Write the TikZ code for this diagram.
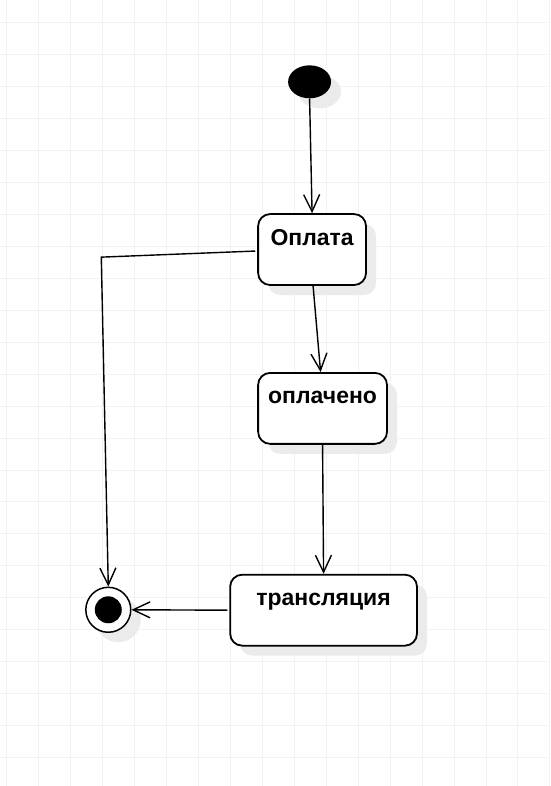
\documentclass[tikz,border=0pt]{standalone}
\usepackage{fontspec}
\setmainfont{Liberation Sans}
\usepackage{tikz}
\usetikzlibrary{shapes,arrows.meta,calc,shadows}

\begin{document}
\begin{tikzpicture}[x=1pt, y=-1pt,
    gridline/.style={draw=black!5, line width=0.8pt},
    shade box/.style={drop shadow={shadow xshift=10pt, shadow yshift=-10pt, fill=black!8, opacity=1}},
    state/.style={draw, line width=1.8pt, fill=white, rounded corners=12pt, shade box,
        inner sep=0pt, text height=31pt, text depth=40pt, font=\fontsize{23}{27}\selectfont\bfseries},
    initial/.style={ellipse, fill=black, minimum width=43pt, minimum height=33pt, inner sep=0pt, shade box},
    final/.style={circle, draw, line width=1.5pt, fill=white, minimum size=45pt, inner sep=0pt, shade box,
        path picture={\fill[black] (path picture bounding box.center) circle (13.5pt);}},
    trans/.style={draw, line width=1.4pt, -{Straight Barb[length=17pt, width=16pt, line width=1.4pt]}}]

    % background grid
    \fill[white] (0,0) rectangle (548,786);
    \foreach \gx in {6,38,...,550} \draw[gridline] (\gx,0) -- (\gx,786);
    \foreach \gy in {22,54,...,786} \draw[gridline] (0,\gy) -- (548,\gy);
    \useasboundingbox (0,0) rectangle (548,786);

    % states
    \node [initial] (start) at (309.5,81.5) {};
    \node [state, minimum width=108pt] (oplata) at (312,213) [anchor=north] {Оплата};
    \node [state, minimum width=129pt] (oplacheno) at (322.5,372) [anchor=north] {оплачено};
    \node [state, minimum width=187pt] (translyatsiya) at (323.5,574) [anchor=north] {трансляция};
    \node [final] (finish) at (108,610) {};
    \coordinate (bend) at (101,257);

    % transitions
    \draw [trans] (start.south) -- (oplata.north);
    \draw [trans] ([xshift=1pt]oplata.south) -- ([xshift=-2pt]oplacheno.north);
    \draw [trans] (oplacheno.south) -- (translyatsiya.north);
    \draw [trans] ([xshift=-2pt,yshift=-1.5pt]oplata.west) -- (bend) -- (finish.north);
    \draw [trans] ([xshift=-2pt]translyatsiya.west) -- (finish.east);
\end{tikzpicture}
\end{document}
